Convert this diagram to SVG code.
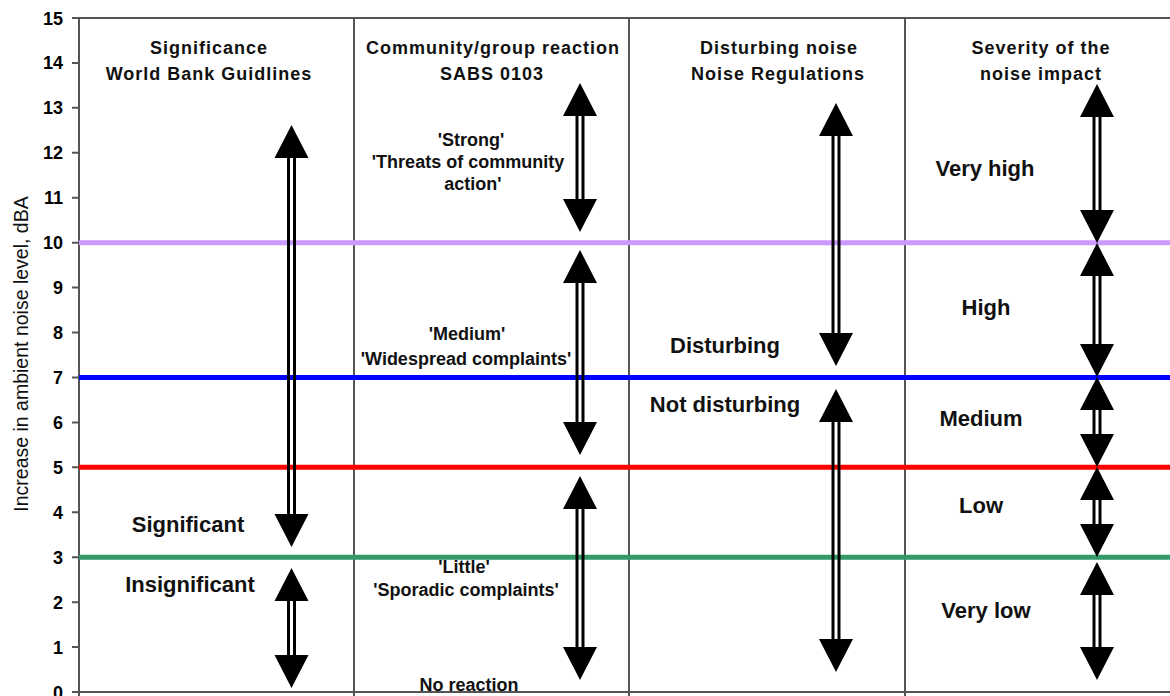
<svg xmlns="http://www.w3.org/2000/svg" width="1170" height="696" viewBox="0 0 1170 696">
<style>
.grid{stroke:#555;stroke-width:2;fill:none}
.tick{stroke:#555;stroke-width:2}
.lvl{stroke-width:5;fill:none}
.tl{font-family:"Liberation Sans",Arial,sans-serif;font-weight:bold;font-size:18px;text-anchor:end;fill:#000}
.hd{font-family:"Liberation Sans",Arial,sans-serif;font-weight:bold;font-size:18px;letter-spacing:1px;text-anchor:middle;fill:#111}
.q{font-family:"Liberation Sans",Arial,sans-serif;font-weight:bold;font-size:18px;text-anchor:middle;fill:#111}
.big{font-family:"Liberation Sans",Arial,sans-serif;font-weight:bold;font-size:22px;text-anchor:middle;fill:#111}
.ax{font-family:"Liberation Sans",Arial,sans-serif;font-size:19.5px;text-anchor:middle;fill:#111}
.head{fill:#000}
.shaft{stroke:#000;stroke-width:3;fill:none}
</style>
<rect width="1170" height="696" fill="#fff"/>
<g id="frame">
<path class="grid" d="M79,18 H1170 M79,18 V692 H1170 M354,18 V692 M629,18 V692 M905,18 V692"/>
<path class="tick" d="M79,692 v4 M354,692 v4 M629,692 v4 M905,692 v4"/>
<path class="tick" d="M72,692H79M72,647.07H79M72,602.13H79M72,557.2H79M72,512.27H79M72,467.33H79M72,422.4H79M72,377.47H79M72,332.53H79M72,287.6H79M72,242.67H79M72,197.73H79M72,152.8H79M72,107.87H79M72,62.93H79M72,18H79"/>
</g>
<g id="y-axis-labels">
<text class="tl" x="63" y="698.5">0</text>
<text class="tl" x="63" y="653.5">1</text>
<text class="tl" x="63" y="608.5">2</text>
<text class="tl" x="63" y="563.5">3</text>
<text class="tl" x="63" y="518.5">4</text>
<text class="tl" x="63" y="473.8">5</text>
<text class="tl" x="63" y="428.9">6</text>
<text class="tl" x="63" y="384">7</text>
<text class="tl" x="63" y="339">8</text>
<text class="tl" x="63" y="294">9</text>
<text class="tl" x="63" y="249">10</text>
<text class="tl" x="63" y="204.2">11</text>
<text class="tl" x="63" y="159.3">12</text>
<text class="tl" x="63" y="114.3">13</text>
<text class="tl" x="63" y="69.4">14</text>
<text class="tl" x="63" y="24.5">15</text>
<text class="ax" transform="translate(28,354) rotate(-90)">Increase in ambient noise level, dBA</text>
</g>
<g id="levels">
<line class="lvl" x1="79" y1="242.7" x2="1170" y2="242.7" stroke="#cc99ff"/>
<line class="lvl" x1="79" y1="377.5" x2="1170" y2="377.5" stroke="#0000ff"/>
<line class="lvl" x1="79" y1="467.3" x2="1170" y2="467.3" stroke="#ff0000"/>
<line class="lvl" x1="79" y1="557.2" x2="1170" y2="557.2" stroke="#339966"/>
</g>
<g id="col-significance">
<text class="hd" x="209" y="54">Significance</text>
<text class="hd" x="209" y="80">World Bank Guidlines</text>
<text class="big" x="188" y="532">Significant</text>
<text class="big" x="190" y="592">Insignificant</text>
</g>
<g id="col-community">
<text class="hd" x="493" y="54">Community/group reaction</text>
<text class="hd" x="492" y="80">SABS 0103</text>
<text class="q" x="471" y="146">'Strong'</text>
<text class="q" x="468" y="168">'Threats of community</text>
<text class="q" x="473" y="190">action'</text>
<text class="q" x="467" y="340">'Medium'</text>
<text class="q" x="466" y="365">'Widespread complaints'</text>
<text class="q" x="464" y="573">'Little'</text>
<text class="q" x="466" y="596">'Sporadic complaints'</text>
<text class="q" x="469" y="691">No reaction</text>
</g>
<g id="col-disturbing">
<text class="hd" x="779" y="54">Disturbing noise</text>
<text class="hd" x="778" y="80">Noise Regulations</text>
<text class="big" x="725" y="353">Disturbing</text>
<text class="big" x="725" y="412">Not disturbing</text>
</g>
<g id="col-severity">
<text class="hd" x="1041" y="54">Severity of the</text>
<text class="hd" x="1041" y="80">noise impact</text>
<text class="big" x="985" y="176">Very high</text>
<text class="big" x="986" y="315">High</text>
<text class="big" x="981" y="426">Medium</text>
<text class="big" x="981" y="513">Low</text>
<text class="big" x="986" y="618">Very low</text>
</g>
<g id="connectors">
<!-- col 1 -->
<path class="shaft" d="M288.5,157V515M294.5,157V515"/>
<path class="head" d="M291.5,125L274.5,158H308.5ZM291.5,547L274.5,514H308.5Z"/>
<path class="shaft" d="M288.5,600V656M294.5,600V656"/>
<path class="head" d="M291.5,568L274.5,601H308.5ZM291.5,688L274.5,655H308.5Z"/>
<!-- col 2 -->
<path class="shaft" d="M577,115V200M583,115V200"/>
<path class="head" d="M580,83L563,116H597ZM580,232L563,199H597Z"/>
<path class="shaft" d="M577,282V423M583,282V423"/>
<path class="head" d="M580,250L563,283H597ZM580,455L563,422H597Z"/>
<path class="shaft" d="M577,508V648M583,508V648"/>
<path class="head" d="M580,476L563,509H597ZM580,680L563,647H597Z"/>
<!-- col 3 -->
<path class="shaft" d="M833,135V334M839,135V334"/>
<path class="head" d="M836,103L819,136H853ZM836,366L819,333H853Z"/>
<path class="shaft" d="M833,421V640M839,421V640"/>
<path class="head" d="M836,389L819,422H853ZM836,672L819,639H853Z"/>
<!-- col 4 -->
<path class="shaft" d="M1094,116V211M1100,116V211"/>
<path class="head" d="M1097,84L1080,117H1114ZM1097,243L1080,210H1114Z"/>
<path class="shaft" d="M1094,275V345M1100,275V345"/>
<path class="head" d="M1097,243L1080,276H1114ZM1097,377L1080,344H1114Z"/>
<path class="shaft" d="M1094,409V435M1100,409V435"/>
<path class="head" d="M1097,377L1080,410H1114ZM1097,467L1080,434H1114Z"/>
<path class="shaft" d="M1094,499V525M1100,499V525"/>
<path class="head" d="M1097,467L1080,500H1114ZM1097,557L1080,524H1114Z"/>
<path class="shaft" d="M1094,594V648M1100,594V648"/>
<path class="head" d="M1097,562L1080,595H1114ZM1097,680L1080,647H1114Z"/>
</g>
</svg>
